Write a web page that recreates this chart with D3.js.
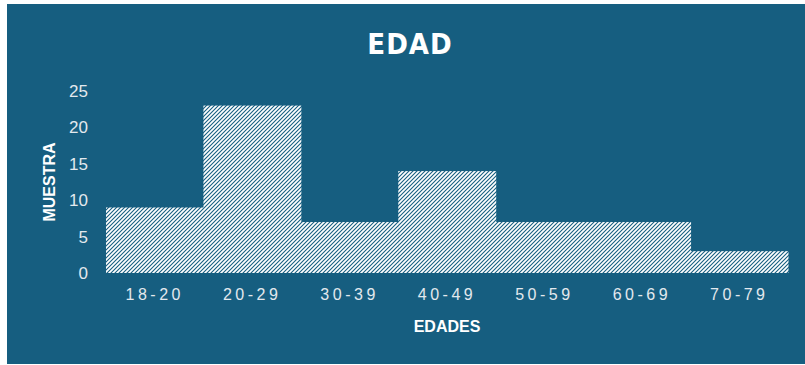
<!DOCTYPE html>
<head>
    <meta charset="utf-8">
    <title>Edad</title>
    <script src="https://d3js.org/d3.v7.min.js"></script>
    <style>
        body{
            margin: 0;
            background: #ffffff;
        }
        text{
            font-family: "Liberation Sans", Arial, sans-serif;
        }
        text.title{
            font-family: "DejaVu Sans Condensed", "DejaVu Sans", sans-serif;
            font-size: 29px;
            font-weight: 700;
            fill: #ffffff;
            letter-spacing: 1px;
        }
        text.axisTitle{
            font-size: 16px;
            font-weight: 700;
            fill: #ffffff;
        }
        .yAxis .tick text{
            font-size: 17px;
            fill: #e3e9ee;
        }
        .xAxis .tick text{
            font-size: 16px;
            fill: #e3e9ee;
            letter-spacing: 3.5px;
        }
        .tick line, path.domain{
            display: none;
        }
    </style>
</head>
<body>
<script>
    // datos del histograma
    var edades = ["18-20", "20-29", "30-39", "40-49", "50-59", "60-69", "70-79"];
    var muestra = [9, 23, 7, 14, 7, 7, 3];
    var yTicks = [0, 5, 10, 15, 20, 25];

    var W = 805, H = 365;
    var bg = "#165e80";

    var svg = d3.select("body").append("svg")
        .attr("width", W)
        .attr("height", H)
        .style("display", "block");

    svg.append("rect")
        .attr("x", 7)
        .attr("y", 4)
        .attr("width", W - 7)
        .attr("height", H - 5)
        .attr("fill", bg);

    // rayado diagonal
    var pat = svg.append("defs").append("pattern")
        .attr("id", "hatch")
        .attr("patternUnits", "userSpaceOnUse")
        .attr("width", 4)
        .attr("height", 4);
    pat.append("rect")
        .attr("width", 4)
        .attr("height", 4)
        .attr("fill", "#ffffff");
    pat.append("path")
        .attr("d", "M-1,1 l2,-2 M0,4 l4,-4 M3,5 l2,-2")
        .attr("stroke", bg)
        .attr("stroke-width", 1.1);

    var x = d3.scaleBand()
        .domain(edades)
        .range([106, 788])
        .padding(0);

    var y = d3.scaleLinear()
        .domain([0, 25])
        .range([273, 91]);

    svg.selectAll("rect.bar")
        .data(edades)
        .enter()
        .append("rect")
        .attr("class", "bar")
        .attr("x", d => x(d))
        .attr("width", x.bandwidth() + 0.5)
        .attr("y", (d, i) => y(muestra[i]))
        .attr("height", (d, i) => y(0) - y(muestra[i]))
        .attr("fill", "url(#hatch)");

    svg.append("g")
        .attr("class", "axis yAxis")
        .attr("transform", "translate(92,0)")
        .call(d3.axisLeft(y).tickValues(yTicks).tickSize(0).tickPadding(4));

    svg.append("g")
        .attr("class", "axis xAxis")
        .attr("transform", "translate(0,285)")
        .call(d3.axisBottom(x).tickSize(0).tickPadding(4));

    svg.append("text")
        .attr("class", "title")
        .attr("x", 410)
        .attr("y", 54)
        .style("text-anchor", "middle")
        .text("EDAD");

    svg.append("text")
        .attr("class", "axisTitle")
        .attr("x", 447)
        .attr("y", 332)
        .style("text-anchor", "middle")
        .text("EDADES");

    svg.append("text")
        .attr("class", "axisTitle")
        .attr("transform", "translate(55,182) rotate(-90)")
        .style("text-anchor", "middle")
        .text("MUESTRA");
</script>
</body>
